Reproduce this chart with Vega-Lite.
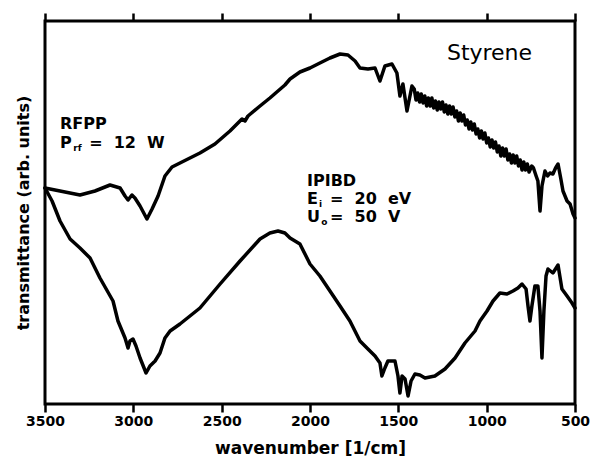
{
  "$schema": "https://vega.github.io/schema/vega-lite/v6.json",
  "width": 530,
  "height": 383,
  "autosize": {"type": "none"},
  "padding": {"left": 45, "top": 21, "right": 16, "bottom": 55},
  "background": "white",
  "config": {
    "view": {"stroke": "black", "strokeWidth": 3},
    "font": "DejaVu Sans"
  },
  "datasets": {
    "spectra": [
      {"series": "RFPP", "w": 3500, "v": 216}, {"series": "RFPP", "w": 3415, "v": 213}, {"series": "RFPP", "w": 3302, "v": 209},
      {"series": "RFPP", "w": 3217, "v": 213}, {"series": "RFPP", "w": 3132, "v": 219}, {"series": "RFPP", "w": 3075, "v": 216},
      {"series": "RFPP", "w": 3047, "v": 208}, {"series": "RFPP", "w": 3030, "v": 204}, {"series": "RFPP", "w": 3008, "v": 209},
      {"series": "RFPP", "w": 2991, "v": 206}, {"series": "RFPP", "w": 2962, "v": 198}, {"series": "RFPP", "w": 2923, "v": 185},
      {"series": "RFPP", "w": 2894, "v": 195}, {"series": "RFPP", "w": 2860, "v": 208}, {"series": "RFPP", "w": 2821, "v": 228},
      {"series": "RFPP", "w": 2781, "v": 237}, {"series": "RFPP", "w": 2736, "v": 241}, {"series": "RFPP", "w": 2623, "v": 251},
      {"series": "RFPP", "w": 2538, "v": 260}, {"series": "RFPP", "w": 2453, "v": 273}, {"series": "RFPP", "w": 2385, "v": 285},
      {"series": "RFPP", "w": 2368, "v": 283}, {"series": "RFPP", "w": 2351, "v": 288}, {"series": "RFPP", "w": 2283, "v": 298},
      {"series": "RFPP", "w": 2227, "v": 306}, {"series": "RFPP", "w": 2142, "v": 319}, {"series": "RFPP", "w": 2113, "v": 325},
      {"series": "RFPP", "w": 2057, "v": 332}, {"series": "RFPP", "w": 2000, "v": 336}, {"series": "RFPP", "w": 1944, "v": 341},
      {"series": "RFPP", "w": 1887, "v": 346}, {"series": "RFPP", "w": 1830, "v": 350}, {"series": "RFPP", "w": 1785, "v": 349},
      {"series": "RFPP", "w": 1745, "v": 343}, {"series": "RFPP", "w": 1717, "v": 336}, {"series": "RFPP", "w": 1672, "v": 335},
      {"series": "RFPP", "w": 1632, "v": 336}, {"series": "RFPP", "w": 1604, "v": 323}, {"series": "RFPP", "w": 1576, "v": 338},
      {"series": "RFPP", "w": 1536, "v": 340}, {"series": "RFPP", "w": 1508, "v": 331}, {"series": "RFPP", "w": 1491, "v": 308},
      {"series": "RFPP", "w": 1474, "v": 320}, {"series": "RFPP", "w": 1451, "v": 293}, {"series": "RFPP", "w": 1423, "v": 318},
      {"series": "RFPP", "w": 1410, "v": 315}, {"series": "RFPP", "w": 1400, "v": 304}, {"series": "RFPP", "w": 1390, "v": 311},
      {"series": "RFPP", "w": 1380, "v": 302}, {"series": "RFPP", "w": 1370, "v": 310}, {"series": "RFPP", "w": 1360, "v": 301},
      {"series": "RFPP", "w": 1350, "v": 308}, {"series": "RFPP", "w": 1340, "v": 298}, {"series": "RFPP", "w": 1330, "v": 306},
      {"series": "RFPP", "w": 1320, "v": 298}, {"series": "RFPP", "w": 1310, "v": 306}, {"series": "RFPP", "w": 1300, "v": 296},
      {"series": "RFPP", "w": 1290, "v": 303}, {"series": "RFPP", "w": 1280, "v": 294}, {"series": "RFPP", "w": 1270, "v": 302},
      {"series": "RFPP", "w": 1260, "v": 295}, {"series": "RFPP", "w": 1250, "v": 302}, {"series": "RFPP", "w": 1240, "v": 292},
      {"series": "RFPP", "w": 1230, "v": 299}, {"series": "RFPP", "w": 1220, "v": 290}, {"series": "RFPP", "w": 1210, "v": 298},
      {"series": "RFPP", "w": 1200, "v": 290}, {"series": "RFPP", "w": 1190, "v": 297}, {"series": "RFPP", "w": 1180, "v": 287},
      {"series": "RFPP", "w": 1170, "v": 293}, {"series": "RFPP", "w": 1160, "v": 283}, {"series": "RFPP", "w": 1150, "v": 291},
      {"series": "RFPP", "w": 1140, "v": 283}, {"series": "RFPP", "w": 1130, "v": 289}, {"series": "RFPP", "w": 1120, "v": 279},
      {"series": "RFPP", "w": 1110, "v": 284}, {"series": "RFPP", "w": 1100, "v": 275}, {"series": "RFPP", "w": 1090, "v": 282},
      {"series": "RFPP", "w": 1080, "v": 274}, {"series": "RFPP", "w": 1070, "v": 280}, {"series": "RFPP", "w": 1060, "v": 270},
      {"series": "RFPP", "w": 1050, "v": 275}, {"series": "RFPP", "w": 1040, "v": 266}, {"series": "RFPP", "w": 1030, "v": 273},
      {"series": "RFPP", "w": 1020, "v": 265}, {"series": "RFPP", "w": 1010, "v": 271}, {"series": "RFPP", "w": 1000, "v": 261},
      {"series": "RFPP", "w": 990, "v": 266}, {"series": "RFPP", "w": 980, "v": 257}, {"series": "RFPP", "w": 970, "v": 264},
      {"series": "RFPP", "w": 960, "v": 256}, {"series": "RFPP", "w": 950, "v": 262}, {"series": "RFPP", "w": 940, "v": 252},
      {"series": "RFPP", "w": 930, "v": 258}, {"series": "RFPP", "w": 920, "v": 248}, {"series": "RFPP", "w": 910, "v": 256},
      {"series": "RFPP", "w": 900, "v": 248}, {"series": "RFPP", "w": 890, "v": 255}, {"series": "RFPP", "w": 880, "v": 244},
      {"series": "RFPP", "w": 870, "v": 250}, {"series": "RFPP", "w": 860, "v": 241}, {"series": "RFPP", "w": 850, "v": 249},
      {"series": "RFPP", "w": 840, "v": 241}, {"series": "RFPP", "w": 830, "v": 248}, {"series": "RFPP", "w": 820, "v": 238},
      {"series": "RFPP", "w": 810, "v": 244}, {"series": "RFPP", "w": 800, "v": 234}, {"series": "RFPP", "w": 790, "v": 242},
      {"series": "RFPP", "w": 780, "v": 234}, {"series": "RFPP", "w": 770, "v": 240}, {"series": "RFPP", "w": 760, "v": 232},
      {"series": "RFPP", "w": 745, "v": 238}, {"series": "RFPP", "w": 735, "v": 236}, {"series": "RFPP", "w": 720, "v": 228},
      {"series": "RFPP", "w": 710, "v": 223}, {"series": "RFPP", "w": 698, "v": 193}, {"series": "RFPP", "w": 687, "v": 218},
      {"series": "RFPP", "w": 670, "v": 233}, {"series": "RFPP", "w": 655, "v": 228}, {"series": "RFPP", "w": 642, "v": 231},
      {"series": "RFPP", "w": 625, "v": 230}, {"series": "RFPP", "w": 610, "v": 236}, {"series": "RFPP", "w": 596, "v": 240},
      {"series": "RFPP", "w": 580, "v": 225}, {"series": "RFPP", "w": 568, "v": 213}, {"series": "RFPP", "w": 545, "v": 203},
      {"series": "RFPP", "w": 528, "v": 200}, {"series": "RFPP", "w": 511, "v": 190}, {"series": "RFPP", "w": 500, "v": 186},

      {"series": "IPIBD", "w": 3500, "v": 216}, {"series": "IPIBD", "w": 3460, "v": 203}, {"series": "IPIBD", "w": 3415, "v": 183},
      {"series": "IPIBD", "w": 3358, "v": 165}, {"series": "IPIBD", "w": 3302, "v": 156}, {"series": "IPIBD", "w": 3245, "v": 146},
      {"series": "IPIBD", "w": 3189, "v": 126}, {"series": "IPIBD", "w": 3115, "v": 103}, {"series": "IPIBD", "w": 3087, "v": 83},
      {"series": "IPIBD", "w": 3047, "v": 66}, {"series": "IPIBD", "w": 3030, "v": 56}, {"series": "IPIBD", "w": 3019, "v": 63},
      {"series": "IPIBD", "w": 3002, "v": 65}, {"series": "IPIBD", "w": 2985, "v": 58}, {"series": "IPIBD", "w": 2962, "v": 46},
      {"series": "IPIBD", "w": 2928, "v": 31}, {"series": "IPIBD", "w": 2906, "v": 38}, {"series": "IPIBD", "w": 2877, "v": 43},
      {"series": "IPIBD", "w": 2849, "v": 51}, {"series": "IPIBD", "w": 2821, "v": 66}, {"series": "IPIBD", "w": 2792, "v": 73},
      {"series": "IPIBD", "w": 2736, "v": 80}, {"series": "IPIBD", "w": 2623, "v": 96}, {"series": "IPIBD", "w": 2509, "v": 120},
      {"series": "IPIBD", "w": 2396, "v": 143}, {"series": "IPIBD", "w": 2283, "v": 165}, {"series": "IPIBD", "w": 2227, "v": 171},
      {"series": "IPIBD", "w": 2181, "v": 173}, {"series": "IPIBD", "w": 2142, "v": 171}, {"series": "IPIBD", "w": 2113, "v": 166},
      {"series": "IPIBD", "w": 2057, "v": 160}, {"series": "IPIBD", "w": 2000, "v": 140}, {"series": "IPIBD", "w": 1944, "v": 128},
      {"series": "IPIBD", "w": 1887, "v": 113}, {"series": "IPIBD", "w": 1830, "v": 98}, {"series": "IPIBD", "w": 1774, "v": 83},
      {"series": "IPIBD", "w": 1717, "v": 63}, {"series": "IPIBD", "w": 1672, "v": 55}, {"series": "IPIBD", "w": 1632, "v": 48},
      {"series": "IPIBD", "w": 1604, "v": 41}, {"series": "IPIBD", "w": 1593, "v": 28}, {"series": "IPIBD", "w": 1576, "v": 36},
      {"series": "IPIBD", "w": 1559, "v": 43}, {"series": "IPIBD", "w": 1519, "v": 43}, {"series": "IPIBD", "w": 1502, "v": 28},
      {"series": "IPIBD", "w": 1491, "v": 11}, {"series": "IPIBD", "w": 1479, "v": 28}, {"series": "IPIBD", "w": 1462, "v": 25},
      {"series": "IPIBD", "w": 1445, "v": 8}, {"series": "IPIBD", "w": 1428, "v": 23}, {"series": "IPIBD", "w": 1406, "v": 30},
      {"series": "IPIBD", "w": 1378, "v": 29}, {"series": "IPIBD", "w": 1349, "v": 26}, {"series": "IPIBD", "w": 1293, "v": 28},
      {"series": "IPIBD", "w": 1236, "v": 35}, {"series": "IPIBD", "w": 1179, "v": 46}, {"series": "IPIBD", "w": 1123, "v": 61},
      {"series": "IPIBD", "w": 1066, "v": 73}, {"series": "IPIBD", "w": 1038, "v": 83}, {"series": "IPIBD", "w": 998, "v": 93},
      {"series": "IPIBD", "w": 964, "v": 103}, {"series": "IPIBD", "w": 925, "v": 111}, {"series": "IPIBD", "w": 885, "v": 110},
      {"series": "IPIBD", "w": 851, "v": 113}, {"series": "IPIBD", "w": 823, "v": 116}, {"series": "IPIBD", "w": 800, "v": 120},
      {"series": "IPIBD", "w": 777, "v": 115}, {"series": "IPIBD", "w": 766, "v": 98}, {"series": "IPIBD", "w": 755, "v": 83},
      {"series": "IPIBD", "w": 744, "v": 98}, {"series": "IPIBD", "w": 727, "v": 118}, {"series": "IPIBD", "w": 710, "v": 118},
      {"series": "IPIBD", "w": 698, "v": 93}, {"series": "IPIBD", "w": 687, "v": 46}, {"series": "IPIBD", "w": 676, "v": 93},
      {"series": "IPIBD", "w": 664, "v": 128}, {"series": "IPIBD", "w": 653, "v": 135}, {"series": "IPIBD", "w": 625, "v": 131},
      {"series": "IPIBD", "w": 596, "v": 139}, {"series": "IPIBD", "w": 574, "v": 115}, {"series": "IPIBD", "w": 545, "v": 108},
      {"series": "IPIBD", "w": 517, "v": 101}, {"series": "IPIBD", "w": 500, "v": 96}
    ],
    "labels": [
      {"kind": "title", "w": 1225, "v": 351, "label": "Styrene"},
      {"kind": "main", "w": 3415, "v": 280, "label": "RFPP"},
      {"kind": "main", "w": 3415, "v": 261, "label": "P"},
      {"kind": "main", "w": 3250, "v": 261, "label": "=\u00a0\u00a012\u00a0\u00a0W"},
      {"kind": "main", "w": 2017, "v": 223, "label": "IPIBD"},
      {"kind": "main", "w": 2017, "v": 205, "label": "E"},
      {"kind": "main", "w": 1887, "v": 205, "label": "=\u00a0\u00a020\u00a0\u00a0eV"},
      {"kind": "main", "w": 2017, "v": 187, "label": "U"},
      {"kind": "main", "w": 1887, "v": 187, "label": "=\u00a0\u00a050\u00a0\u00a0V"},
      {"kind": "sub", "w": 3340, "v": 256, "label": "rf"},
      {"kind": "sub", "w": 1949, "v": 200, "label": "i"},
      {"kind": "sub", "w": 1936, "v": 182, "label": "o"}
    ]
  },
  "layer": [
    {
      "data": {"name": "spectra"},
      "mark": {"type": "line", "color": "black", "strokeWidth": 3.5, "strokeJoin": "round", "strokeCap": "round"},
      "encoding": {
        "x": {"field": "w", "type": "quantitative",
          "scale": {"domain": [500, 3500], "reverse": true, "nice": false, "zero": false},
          "axis": {"orient": "bottom", "values": [3500, 3000, 2500, 2000, 1500, 1000, 500], "labelExpr": "datum.value",
            "domain": false, "grid": false, "tickColor": "black", "tickSize": 8, "tickWidth": 2.5,
            "labelFontWeight": "bold", "labelFontSize": 14, "labelColor": "black",
            "labelFlush": false, "labelOverlap": false,
            "title": "wavenumber  [1/cm]", "titleFontWeight": "bold", "titleFontSize": 17, "titleColor": "black", "titlePadding": 12}},
        "y": {"field": "v", "type": "quantitative", "scale": {"domain": [0, 383], "nice": false, "zero": false},
          "axis": {"title": "transmittance  (arb.  units)", "labels": false, "ticks": false, "domain": false, "grid": false,
            "titleFontWeight": "bold", "titleFontSize": 16, "titleColor": "black", "titlePadding": 14}},
        "detail": {"field": "series"}
      }
    },
    {
      "data": {"name": "labels"},
      "transform": [{"filter": "datum.kind === 'main'"}],
      "mark": {"type": "text", "align": "left", "baseline": "middle", "fontWeight": "bold", "fontSize": 16, "color": "black"},
      "encoding": {
        "x": {"field": "w", "type": "quantitative",
          "scale": {"domain": [500, 3500], "reverse": true, "nice": false, "zero": false},
          "axis": {"orient": "top", "values": [3500, 3000, 2500, 2000, 1500, 1000, 500],
            "labels": false, "domain": false, "grid": false, "title": null, "tickColor": "black", "tickSize": 8, "tickWidth": 2.5}},
        "y": {"field": "v", "type": "quantitative", "scale": {"domain": [0, 383], "nice": false, "zero": false},
          "axis": {"title": "transmittance  (arb.  units)", "labels": false, "ticks": false, "domain": false, "grid": false,
            "titleFontWeight": "bold", "titleFontSize": 16, "titleColor": "black", "titlePadding": 14}},
        "text": {"field": "label"}
      }
    },
    {
      "data": {"name": "labels"},
      "transform": [{"filter": "datum.kind === 'title'"}],
      "mark": {"type": "text", "align": "left", "baseline": "middle", "fontSize": 22, "color": "black"},
      "encoding": {
        "x": {"field": "w", "type": "quantitative",
          "scale": {"domain": [500, 3500], "reverse": true, "nice": false, "zero": false}, "axis": null},
        "y": {"field": "v", "type": "quantitative", "scale": {"domain": [0, 383], "nice": false, "zero": false},
          "axis": {"title": "transmittance  (arb.  units)", "labels": false, "ticks": false, "domain": false, "grid": false,
            "titleFontWeight": "bold", "titleFontSize": 16, "titleColor": "black", "titlePadding": 14}},
        "text": {"field": "label"}
      }
    },
    {
      "data": {"name": "labels"},
      "transform": [{"filter": "datum.kind === 'sub'"}],
      "mark": {"type": "text", "align": "left", "baseline": "middle", "fontWeight": "bold", "fontSize": 9, "color": "black"},
      "encoding": {
        "x": {"field": "w", "type": "quantitative",
          "scale": {"domain": [500, 3500], "reverse": true, "nice": false, "zero": false}, "axis": null},
        "y": {"field": "v", "type": "quantitative", "scale": {"domain": [0, 383], "nice": false, "zero": false},
          "axis": {"title": "transmittance  (arb.  units)", "labels": false, "ticks": false, "domain": false, "grid": false,
            "titleFontWeight": "bold", "titleFontSize": 16, "titleColor": "black", "titlePadding": 14}},
        "text": {"field": "label"}
      }
    }
  ],
  "resolve": {"axis": {"x": "independent"}}
}
